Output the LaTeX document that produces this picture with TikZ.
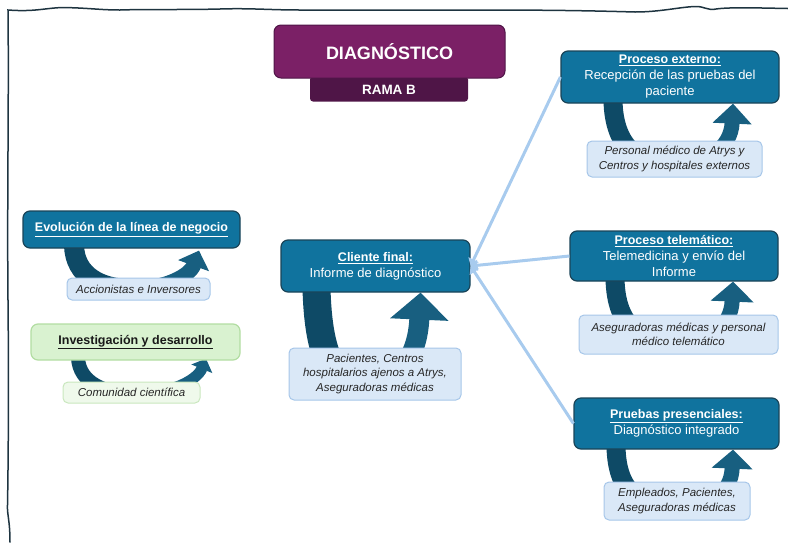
\documentclass[tikz,border=0pt]{standalone}
\usepackage{fontspec}
\setmainfont{Liberation Sans}
\usetikzlibrary{arrows.meta,calc,backgrounds}
\definecolor{morado}{HTML}{7B2066}
\definecolor{moradooscuro}{HTML}{4F1547}
\definecolor{azul}{HTML}{10739E}
\definecolor{azuloscuro}{HTML}{185F80}
\definecolor{azulsombra}{HTML}{0E4A66}
\definecolor{bordeazul}{HTML}{1A4458}
\definecolor{nota}{HTML}{DAE8F7}
\definecolor{bordenota}{HTML}{A6C6E9}
\definecolor{verde}{HTML}{D9F2D0}
\definecolor{bordeverde}{HTML}{B2DDA2}
\definecolor{notaverde}{HTML}{EFF9EB}
\definecolor{enlace}{HTML}{A8CBEE}
\definecolor{marco}{HTML}{1E3440}
\newcommand{\tit}[1]{{\fontsize{12.5}{16}\selectfont\underline{\textbf{#1}}}}

\tikzset{
	caja/.style={draw=bordeazul, fill=azul, line width=1.2pt, rounded corners=7pt, text=white, align=center, inner sep=0pt, font=\fontsize{13}{16}\selectfont},
	cajaverde/.style={caja, draw=bordeverde, fill=verde, text=black!90},
	nota/.style={draw=bordenota, fill=nota, line width=1pt, rounded corners=5pt, text=black!85, align=center, inner sep=0pt, font=\fontsize{11.5}{14.5}\selectfont\itshape},
	notaverde/.style={nota, draw=bordeverde!70, fill=notaverde},
	bajada/.style={draw=azulsombra, line width=#1},
	subida/.style={draw=azuloscuro, line width=#1},
	flecha/.style={draw=enlace, line width=3pt, -{Triangle[width=11pt,length=7pt]}},
}

\begin{document}
\begin{tikzpicture}[x=1pt, y=-1pt]
	\useasboundingbox (0,0) rectangle (788,542);

	% marco
	\draw[marco, line width=1.5pt, line cap=round] (788,8.5) .. controls (760,8) and (730,7) .. (716,9) .. controls (708,11) and (704,6) .. (695,6.5) .. controls (680,7) and (660,12) .. (635,12) .. controls (600,11) and (560,10) .. (480,10) -- (300,10) .. controls (270,10) and (250,8) .. (220,9) .. controls (180,10) and (150,9) .. (120,10) .. controls (100,10) and (90,8) .. (63,7.5) .. controls (45,8) and (35,12) .. (8,10) .. controls (9,100) and (7,200) .. (8,300) .. controls (9,400) and (8,480) .. (7.5,505) .. controls (7,515) and (10,520) .. (10,542);

	% cabecera
	\node[fill=moradooscuro, rounded corners=3pt, minimum width=158pt, minimum height=25pt, text=white, font=\fontsize{13.5}{16}\selectfont\bfseries, text depth=0pt] (rama) at (389,89) {\raisebox{-2pt}{RAMA B}};
	\node[draw=moradooscuro, line width=1pt, fill=morado, rounded corners=7pt, minimum width=231pt, minimum height=53pt, text=white, font=\fontsize{18}{20}\selectfont\bfseries] (titulo) at (389.5,51.5) {DIAGNÓSTICO};

	% centro
	\node[caja, minimum width=189pt, minimum height=52pt] (cliente) at (375.5,266) {\tit{Cliente final:}\\Informe de diagnóstico};
	\node[nota, minimum width=172pt, minimum height=52pt] (clientenota) at (375,374) {Pacientes, Centros\\hospitalarios ajenos a Atrys,\\Aseguradoras médicas};

	% izquierda
	\node[caja, minimum width=217pt, minimum height=37pt] (evolucion) at (131.5,229.5) {\tit{Evolución de la línea de negocio}};
	\node[nota, minimum width=143pt, minimum height=22pt] (evolucionnota) at (138.5,289) {Accionistas e Inversores};
	\node[cajaverde, minimum width=209pt, minimum height=36pt] (investigacion) at (135.5,342) {\tit{Investigación y desarrollo}};
	\node[notaverde, minimum width=137pt, minimum height=21pt] (investigacionnota) at (131.5,392.5) {Comunidad científica};

	% derecha
	\node[caja, minimum width=218pt, minimum height=52pt] (externo) at (670,77) {\tit{Proceso externo:}\\Recepción de las pruebas del\\paciente};
	\node[nota, minimum width=175pt, minimum height=36pt] (externonota) at (674.5,159) {Personal médico de Atrys y\\Centros y hospitales externos};
	\node[caja, minimum width=208pt, minimum height=50pt] (telematico) at (674,256) {\tit{Proceso telemático:}\\Telemedicina y envío del\\Informe};
	\node[nota, minimum width=199pt, minimum height=39pt] (telematiconota) at (678.5,334.5) {Aseguradoras médicas y personal\\médico telemático};
	\node[caja, minimum width=205pt, minimum height=51pt] (presenciales) at (676.5,423.5) {\tit{Pruebas presenciales:}\\Diagnóstico integrado};
	\node[nota, minimum width=146pt, minimum height=38pt] (presencialesnota) at (677,501) {Empleados, Pacientes,\\Aseguradoras médicas};

	% ciclos bajo las cajas: bajada oscura, subida con punta
	\begin{scope}[on background layer]
		\coordinate (fc) at ($(clientenota.center)+(-10,11)$);
		\draw[bajada=28pt] ($(cliente.south)+(-59,-4)$) .. controls +(2,72) and +(-30,0) .. (fc);
		\draw[subida=20pt, -{Triangle[width=57pt,length=27pt]}] (fc) .. controls +(30,0) and +(-3,68) .. ($(cliente.south)+(45,0)$);

		\coordinate (fe) at ($(evolucionnota.center)+(-8,0)$);
		\draw[bajada=20pt] ($(evolucion.south)+(-57.5,-3)$) .. controls +(1,30) and +(-30,0) .. (fe);
		\draw[subida=15pt, -{Triangle[width=32pt,length=16pt]}] (fe) .. controls +(35,0) and +(-9,25) .. ($(evolucion.south)+(67.5,2)$);

		\coordinate (fi) at ($(investigacionnota.center)+(3.5,1.5)$);
		\draw[bajada=14pt] ($(investigacion.south)+(-57.5,-3)$) .. controls +(1,25) and +(-30,0) .. (fi);
		\draw[subida=11pt, -{Triangle[width=22pt,length=11pt]}] (fi) .. controls +(35,0) and +(-9,22) .. ($(investigacion.south)+(70.5,-2)$);

		\coordinate (fx) at ($(externonota.center)+(-2,6)$);
		\draw[bajada=19pt] ($(externo.south)+(-57,-3)$) .. controls +(1,48) and +(-32,0) .. (fx);
		\draw[subida=15pt, -{Triangle[width=38pt,length=20pt]}] (fx) .. controls +(33,0) and +(-2,45) .. ($(externo.south)+(63,0)$);

		\coordinate (ft) at ($(telematiconota.center)+(-4,7)$);
		\draw[bajada=19pt] ($(telematico.south)+(-59,-3)$) .. controls +(1,50) and +(-32,0) .. (ft);
		\draw[subida=15pt, -{Triangle[width=42pt,length=20pt]}] (ft) .. controls +(33,0) and +(-2,47) .. ($(telematico.south)+(59,0)$);

		\coordinate (fp) at ($(presencialesnota.center)+(-2,6)$);
		\draw[bajada=19pt] ($(presenciales.south)+(-60.5,-3)$) .. controls +(1,49) and +(-32,0) .. (fp);
		\draw[subida=15pt, -{Triangle[width=40pt,length=19pt]}] (fp) .. controls +(33,0) and +(-2,46) .. ($(presenciales.south)+(56.5,0)$);
	\end{scope}

	% enlaces hacia el cliente final
	\draw[flecha] (externo.west) -- (cliente.east);
	\draw[flecha] (telematico.west) -- (cliente.east);
	\draw[flecha] (presenciales.west) -- (cliente.east);
\end{tikzpicture}
\end{document}
